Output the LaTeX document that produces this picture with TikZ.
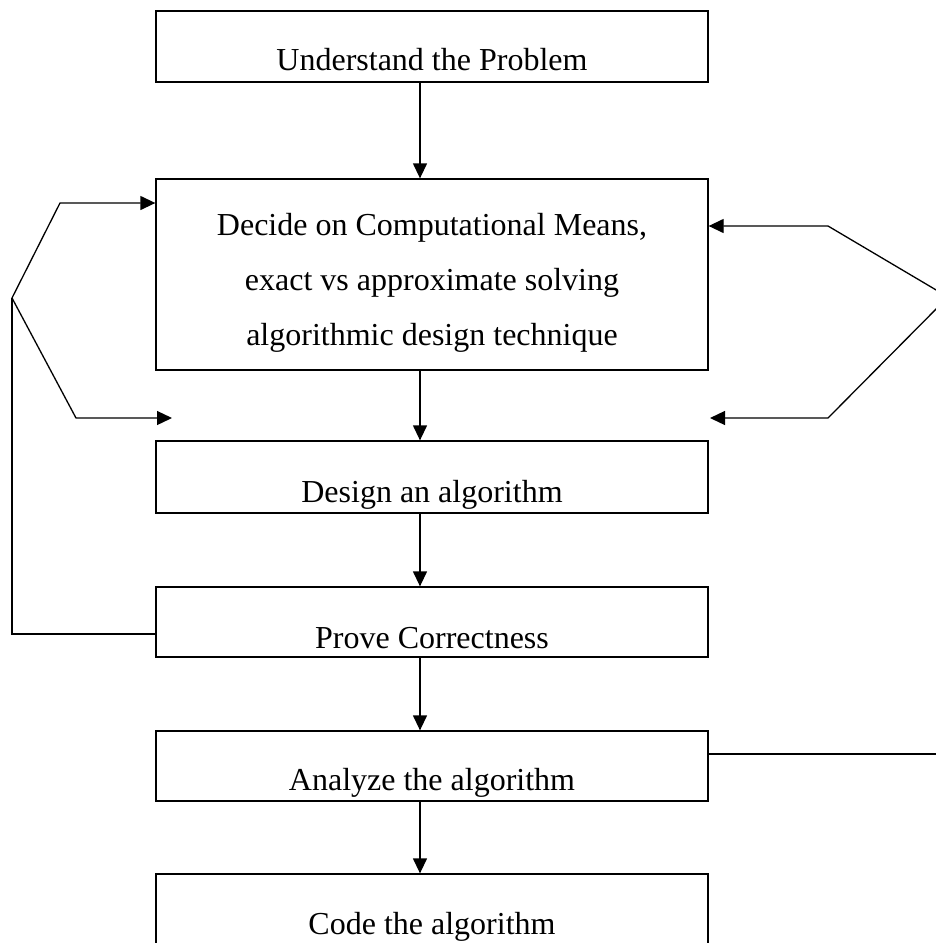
\documentclass[tikz,border=0pt]{standalone}
\usepackage{fontspec}
\setmainfont{Liberation Serif}
\usetikzlibrary{arrows.meta,calc}
\begin{document}
\begin{tikzpicture}[x=1pt,y=-1pt,
  box/.style={draw,line width=1.3pt,rectangle,minimum width=552pt,inner sep=0pt},
  lbl/.style={anchor=base,inner sep=0pt,font=\fontsize{32}{38}\selectfont},
  link/.style={line width=1.3pt},
  flow/.style={link,-{Triangle[length=15pt,width=14pt]}}]
\useasboundingbox (0,0) rectangle (936,943);
\clip (0,0) rectangle (936,943);

% process steps
\node[box,minimum height=71pt] (b1) at (432,46.5) {};
\node[box,minimum height=191pt] (b2) at (432,274.5) {};
\node[box,minimum height=72pt] (b3) at (432,477) {};
\node[box,minimum height=70pt] (b4) at (432,622) {};
\node[box,minimum height=70pt] (b5) at (432,766) {};
\node[box,minimum height=90pt] (b6) at (432,919) {};

% step texts
\node[lbl] (t1) at (432,70) {Understand the Problem};
\node[lbl] (t2a) at (432,235) {Decide on Computational Means,};
\node[lbl] (t2b) at (432,290) {exact vs approximate solving};
\node[lbl] (t2c) at (432,345) {algorithmic design technique};
\node[lbl] (t3) at (432,502) {Design an algorithm};
\node[lbl] (t4) at (432,648) {Prove Correctness};
\node[lbl] (t5) at (432,790) {Analyze the algorithm};
\node[lbl] (t6) at (432,934) {Code the algorithm};

% main flow
\coordinate (ax) at (420,0);
\foreach \a/\b in {b1/b2,b2/b3,b3/b4,b4/b5,b5/b6}
  \draw[flow] (\a.south -| ax) -- (\b.north -| ax);

% feedback from correctness proof
\coordinate (lj) at (12,298);
\coordinate (lu) at (60,203);
\coordinate (ll) at (76,418);
\coordinate (lt) at (172,418);
\draw[link] ($(b4.west)+(0,12)$) -| (lj);
\draw[flow] (lj) -- (lu) -- (lu -| b2.west);
\draw[flow] (lj) -- (ll) -- (lt);

% feedback from analysis
\coordinate (rj) at (948,297);
\coordinate (ru) at (828,226);
\coordinate (rl) at (828,418);
\coordinate (rt) at (710,418);
\draw[link] ($(b5.east)+(0,-12)$) -| (rj);
\draw[flow] (rj) -- (ru) -- (ru -| b2.east);
\draw[flow] (rj) -- (rl) -- (rt);
\end{tikzpicture}
\end{document}
